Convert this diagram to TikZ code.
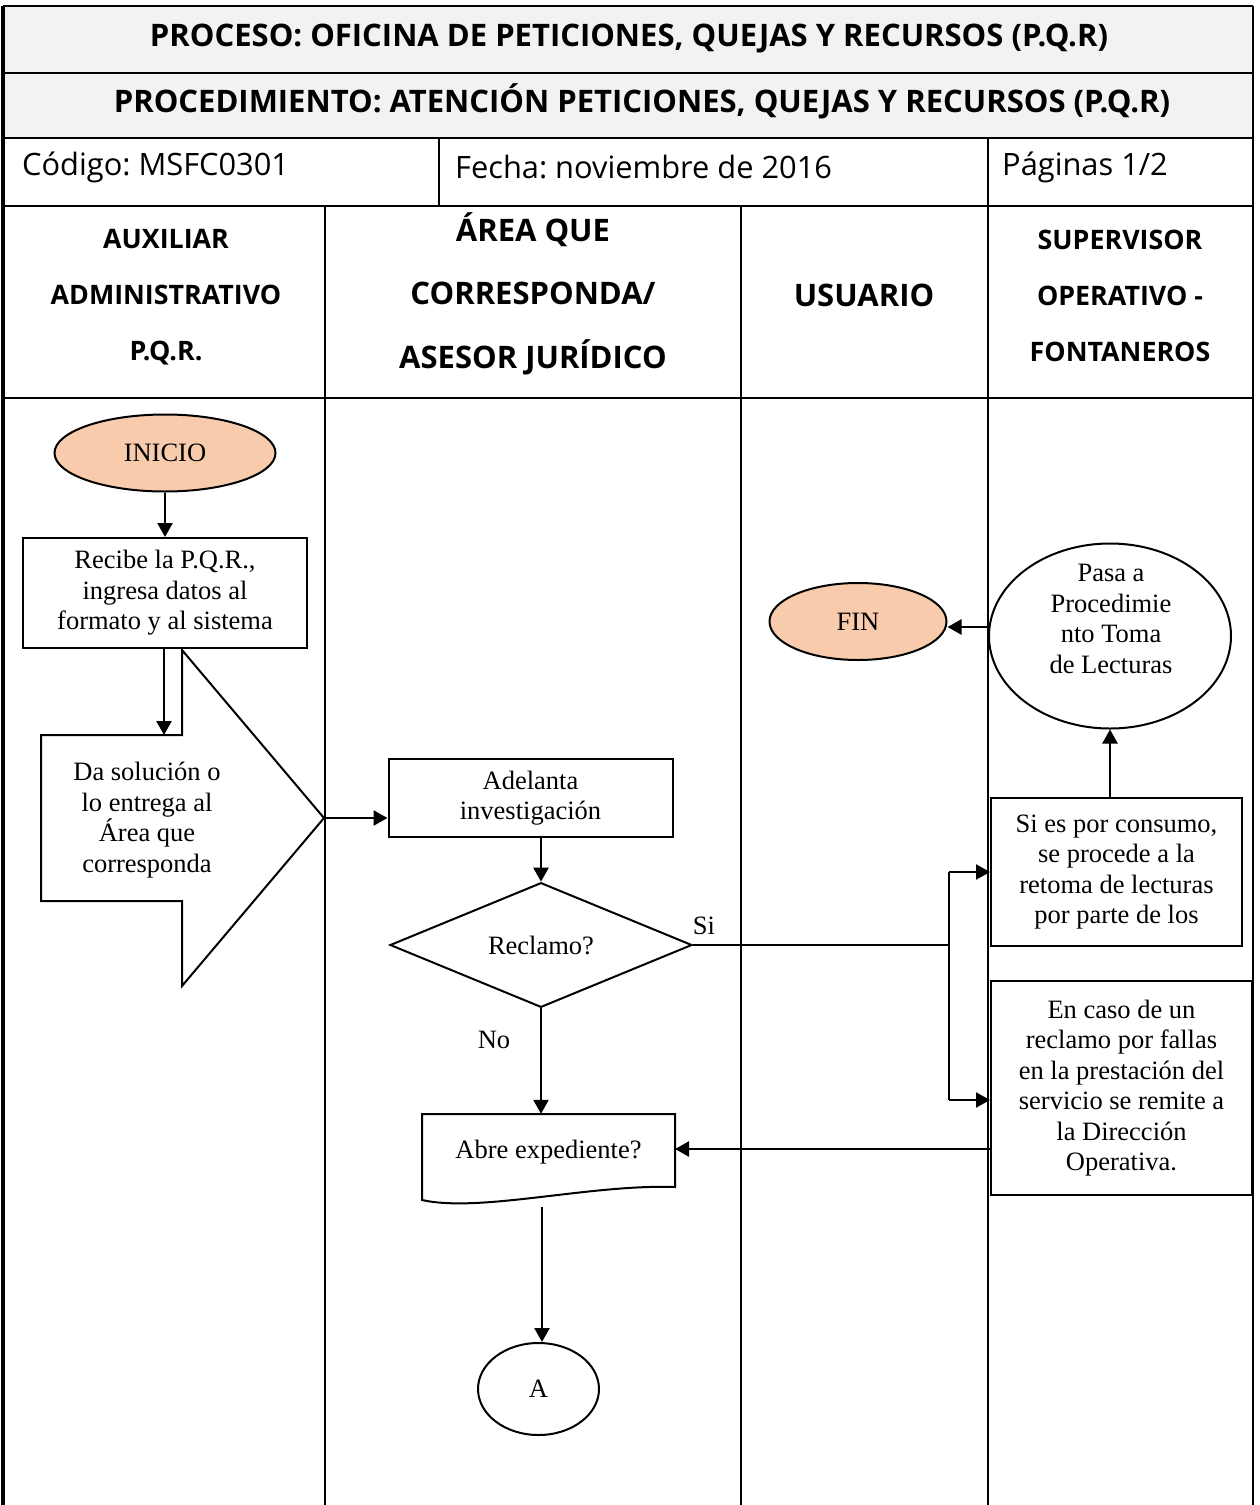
\documentclass[tikz,border=0pt]{standalone}
\usepackage{fontspec}
\setmainfont{Liberation Serif}
\newfontfamily\hdfont{Open Sans}
\usetikzlibrary{shapes.geometric,arrows.meta}
\definecolor{peach}{RGB}{248,203,173}
\definecolor{hdgray}{RGB}{242,242,242}
\frenchspacing

\begin{document}
\begin{tikzpicture}[x=1pt,y=-1pt,
  arr/.style={line width=2.4pt,-{Triangle[length=14pt,width=15pt]}},
  outline/.style={draw,line width=2pt},
  body/.style={font=\fontsize{26.5}{30.5}\selectfont,align=center,inner sep=0pt},
  rule/.style={line width=1.6pt},
  title/.style={font=\hdfont\bfseries\fontsize{31}{36}\selectfont,inner sep=0pt},
  cell/.style={font=\hdfont\fontsize{30.8}{36}\selectfont,inner sep=0pt,anchor=west},
  lanehd/.style={font=\hdfont\bfseries\fontsize{26.8}{56}\selectfont,align=center,inner sep=0pt},
  lanehdbig/.style={font=\hdfont\bfseries\fontsize{31}{63.5}\selectfont,align=center,inner sep=0pt},
  terminal/.style={ellipse,outline,fill=peach,inner sep=0pt},
  stepbox/.style={rectangle,outline,inner sep=0pt}
]
\useasboundingbox (0,0) rectangle (1259,1505);

% header table
\fill[hdgray] (3,6) rectangle (1253,138);
\draw[rule] (3,6) -- (1253,6);
\draw[rule] (3,73) -- (1253,73);
\draw[rule] (3,138) -- (1253,138);
\draw[rule] (3,206) -- (1253,206);
\draw[rule] (3,398) -- (1253,398);
\draw[rule] (439,138) -- (439,206);
\draw[rule] (988,138) -- (988,1505);
\draw[rule] (325,206) -- (325,1505);
\draw[rule] (741,206) -- (741,1505);
\draw[line width=3.5pt] (3,6) -- (3,1505);
\draw[line width=2pt] (1253,6) -- (1253,1505);

\node[title] (t1) at (629,39) {PROCESO: OFICINA DE PETICIONES, QUEJAS Y RECURSOS (P.Q.R)};
\node[title] (t2) at (642,101) {PROCEDIMIENTO: ATENCIÓN PETICIONES, QUEJAS Y RECURSOS (P.Q.R)};
\node[cell] (cod) at (22,167) {Código: MSFC0301};
\node[cell] (fec) at (455,167) {Fecha: noviembre de 2016};
\node[cell] (pag) at (1002,167) {Páginas 1/2};

\node[lanehd] (h1) at (166,297.5) {AUXILIAR\\ADMINISTRATIVO\\P.Q.R.};
\node[lanehdbig] (h2) at (533,293.5) {ÁREA QUE\\CORRESPONDA/\\ASESOR JURÍDICO};
\node[lanehdbig] (h3) at (864,295) {USUARIO};
\node[lanehd] (h4) at (1120,296) {SUPERVISOR\\OPERATIVO -\\FONTANEROS};

% flow shapes
\node[terminal,body,minimum width=221,minimum height=77] (inicio) at (165,453) {INICIO};
\node[stepbox,body,minimum width=284,minimum height=110] (recibe) at (165,593) {Recibe la P.Q.R.,\\ingresa datos al\\formato y al sistema};

\draw[outline,line join=miter] (41,735) -- (182,735) -- (182,650) -- (324,818) -- (182,986) -- (182,901) -- (41,901) -- cycle;
\coordinate (datop) at (164,735);
\coordinate (datip) at (324,818);
\node[body] (da) at (147,820) {Da solución o\\lo entrega al\\Área que\\corresponda};

\node[stepbox,body,minimum width=284,minimum height=78] (adelanta) at (530.5,798) {Adelanta\\investigación};
\node[diamond,outline,body,minimum width=302,minimum height=104] (reclamo) at (541,945) {Reclamo?};

\node[body,minimum width=253,minimum height=76] (abre) at (548.5,1152) {Abre expediente?};
\draw[outline,line join=miter] (422,1114) -- (675,1114) -- (675,1187)
  .. controls (590,1184) and (480,1213) .. (422,1200) -- cycle;
\coordinate (abreout) at (542,1207);

\node[ellipse,outline,body,minimum width=121,minimum height=92] (a) at (538.5,1389) {A};

\node[terminal,body,minimum width=177,minimum height=77] (fin) at (858,621.5) {FIN};
\node[ellipse,outline,minimum width=242,minimum height=185] (pasa) at (1110,636) {};
\node[body] (pasatxt) at (1111,619) {Pasa a\\Procedimie\\nto Toma\\de Lecturas};

\node[stepbox,body,minimum width=251,minimum height=148] (consumo) at (1116.5,872) {Si es por consumo,\\se procede a la\\retoma de lecturas\\por parte de los};
\node[stepbox,body,minimum width=261,minimum height=214] (caso) at (1121.5,1088) {En caso de un\\reclamo por fallas\\en la prestación del\\servicio se remite a\\la Dirección\\Operativa.};

% connectors
\draw[arr] (inicio.south) -- (recibe.north);
\draw[arr] (recibe.south -| datop) -- (datop);
\draw[arr] (datip) -- (datip -| adelanta.west);
\draw[arr] (reclamo.north |- adelanta.south) -- (reclamo.north);
\draw[arr] (reclamo.south) -- (reclamo.south |- abre.north);
\node[body] (no) at (494,1040) {No};
\draw[arr] (abreout) -- (abreout |- a.north);

\coordinate (jn) at (949,945);
\draw[line width=1.2pt] (reclamo.east) -- (jn);
\node[body] (si) at (704,926) {Si};
\coordinate (casoin) at ([yshift=-12pt]caso.west);
\draw[line width=2.4pt] (jn |- consumo.west) -- (jn |- casoin);
\draw[arr] (jn |- consumo.west) -- (consumo.west);
\draw[arr] (jn |- casoin) -- (casoin);

\draw[arr] (pasa.south |- consumo.north) -- (pasa.south);
\coordinate (finin) at ([yshift=9pt]pasa.west);
\draw[arr] (finin) -- (finin -| fin.east);
\coordinate (abrein) at (675,1149);
\draw[arr] (abrein -| caso.west) -- (abrein);
\end{tikzpicture}
\end{document}
